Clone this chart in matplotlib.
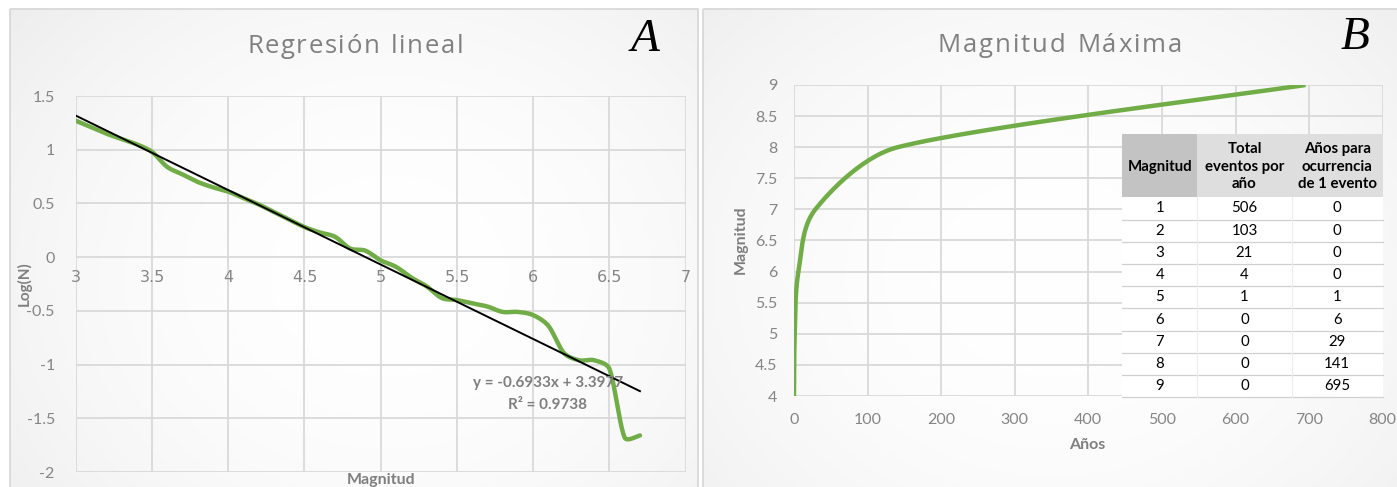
import numpy as np
import matplotlib
matplotlib.use("Agg")
import matplotlib.pyplot as plt
from matplotlib.patches import Rectangle
from matplotlib.font_manager import FontProperties

# ---------------- data ----------------
mag_a = [3.0, 3.1, 3.2, 3.3, 3.4, 3.5, 3.6, 3.7, 3.8, 3.9,
         4.0, 4.1, 4.2, 4.3, 4.4, 4.5, 4.6, 4.7, 4.8, 4.9,
         5.0, 5.1, 5.2, 5.3, 5.4, 5.5, 5.6, 5.7, 5.8, 5.9,
         6.0, 6.1, 6.2, 6.3, 6.4, 6.5, 6.6, 6.7]
logn_a = [1.27, 1.21, 1.15, 1.10, 1.05, 0.98, 0.84, 0.77, 0.70, 0.65,
          0.61, 0.55, 0.49, 0.42, 0.35, 0.28, 0.23, 0.19, 0.08, 0.06,
          -0.03, -0.09, -0.19, -0.27, -0.38, -0.40, -0.43, -0.46, -0.51, -0.51,
          -0.54, -0.64, -0.89, -0.96, -0.96, -1.04, -1.68, -1.66]
trend_slope = -0.6933
trend_intercept = 3.3977
trend_r2 = 0.9738

table_mag = [1, 2, 3, 4, 5, 6, 7, 8, 9]
table_events = [506, 103, 21, 4, 1, 0, 0, 0, 0]
table_years = [0, 0, 0, 0, 1, 6, 29, 141, 695]
table_headers = ["Magnitud", "Total\neventos por\naño", "Años para\nocurrencia\nde 1 evento"]

curve_mag_b = table_mag[3:]      # 4..9
curve_years_b = table_years[3:]

xticks_a = [3, 3.5, 4, 4.5, 5, 5.5, 6, 6.5, 7]
yticks_a = [-2, -1.5, -1, -0.5, 0, 0.5, 1, 1.5]
xticks_b = [0, 100, 200, 300, 400, 500, 600, 700, 800]
yticks_b = [4, 4.5, 5, 5.5, 6, 6.5, 7, 7.5, 8, 8.5, 9]

# ---------------- style ----------------
W, H = 1397, 487
FONT = "Lato"
TFONT = "Open Sans"
GREEN = "#70ad47"
GRID = "#d9d9d9"
TXT = "#7f7f7f"
TICK = "#858585"

fig = plt.figure(figsize=(W / 100, H / 100), dpi=100)
fig.patch.set_facecolor("white")
renderer = fig.canvas.get_renderer()


def fr(x0, y0, x1, y1):
    return [x0 / W, 1 - y1 / H, (x1 - x0) / W, (y1 - y0) / H]


# background panels with soft gradient
bg = fig.add_axes([0, 0, 1, 1], zorder=-10)
bg.set_xlim(0, W)
bg.set_ylim(H, 0)
bg.axis("off")


def panel(x0, y0, x1, y1, cx, cy):
    nx, ny = int(x1 - x0), int(y1 - y0)
    xs = np.linspace(0, 1, nx)
    ys = np.linspace(0, 1, ny)
    X, Y = np.meshgrid(xs, ys)
    d = np.sqrt(((X - cx) / 0.75) ** 2 + ((Y - cy) / 0.9) ** 2)
    v = 1 - 0.075 * np.clip(d, 0, 1.4) ** 2
    img = np.dstack([v, v, v])
    bg.imshow(img, extent=(x0, x1, y1, y0), aspect="auto", interpolation="bilinear")
    bg.add_patch(Rectangle((x0, y0), x1 - x0, y1 - y0, fill=False,
                           edgecolor="#d6d6d6", lw=1.2))


panel(10, 9, 698, 495, 0.55, 0.55)
panel(703, 9, 1405, 495, 0.5, 0.55)


def spaced_title(text, x_left, x_right, y, size, color):
    fp = FontProperties(family=TFONT, size=size)
    widths = []
    for ch in text:
        w, h, d = renderer.get_text_width_height_descent(ch if ch != " " else "n", fp, ismath=False)
        if ch == " ":
            w *= 0.5
        widths.append(w)
    total = sum(widths)
    gap = (x_right - x_left - total) / (len(text) - 1)
    x = x_left
    for ch, w in zip(text, widths):
        if ch != " ":
            bg.text(x, y, ch, ha="left", va="baseline", fontproperties=fp, color=color)
        x += w + gap


def smooth_line(ax, x, y, n=30):
    """Smoothed (Bezier, Catmull-Rom tangents with clamped handles) path in display space."""
    P = ax.transData.transform(np.column_stack([x, y]))
    m = len(P)
    T = np.zeros_like(P)
    for i in range(m):
        a = P[max(i - 1, 0)]
        b = P[min(i + 1, m - 1)]
        T[i] = (b - a) / 6.0
    out = []
    t = np.linspace(0, 1, n, endpoint=False)[:, None]
    for i in range(m - 1):
        p1, p2 = P[i], P[i + 1]
        L = np.linalg.norm(p2 - p1)
        h1, h2 = T[i].copy(), T[i + 1].copy()
        for h in (h1, h2):
            ln = np.linalg.norm(h)
            if ln > L / 3 and ln > 0:
                h *= (L / 3) / ln
        c1, c2 = p1 + h1, p2 - h2
        seg = ((1 - t) ** 3) * p1 + 3 * ((1 - t) ** 2) * t * c1 + 3 * (1 - t) * t ** 2 * c2 + t ** 3 * p2
        out.append(seg)
    out.append(P[-1][None, :])
    out = np.vstack(out)
    d = ax.transData.inverted().transform(out)
    return d[:, 0], d[:, 1]


def style_axes(ax):
    ax.set_facecolor("none")
    for s in ax.spines.values():
        s.set_visible(False)
    ax.grid(True, color=GRID, lw=1.3)
    ax.set_axisbelow(True)
    ax.tick_params(length=0, colors=TICK, labelsize=11.5)
    for lab in ax.get_xticklabels() + ax.get_yticklabels():
        lab.set_fontfamily(FONT)


# ---------------- chart A ----------------
axA = fig.add_axes(fr(75.7, 96, 685.7, 472))
axA.set_xlim(3, 7)
axA.set_ylim(-2, 1.5)
axA.set_xticks(xticks_a)
axA.set_yticks(yticks_a)
axA.set_xticklabels([f"{v:g}" for v in xticks_a])
axA.set_yticklabels([f"{v:g}" for v in yticks_a])
style_axes(axA)
axA.spines["bottom"].set_position(("data", 0))
axA.tick_params(axis="x", pad=9)
axA.tick_params(axis="y", pad=15)

sx, sy = smooth_line(axA, mag_a, logn_a)
axA.plot(sx, sy, color=GREEN, lw=3.2, solid_capstyle="round", solid_joinstyle="round", zorder=3)
tx = np.array([mag_a[0], mag_a[-1]])
axA.plot(tx, trend_slope * tx + trend_intercept, color="black", lw=1.4, zorder=4)

fig.text(548 / W, 1 - 383 / H, f"y = {trend_slope}x + {trend_intercept}", ha="center", va="center",
         color=TXT, fontsize=11, fontweight="bold", family=FONT)
fig.text(548 / W, 1 - 405 / H, f"R² = {trend_r2}", ha="center", va="center",
         color=TXT, fontsize=11, fontweight="bold", family=FONT)

fig.text(24 / W, 1 - 284 / H, "Log(N)", rotation=90, ha="center", va="center",
         color=TXT, fontsize=11, fontweight="bold", family=FONT)
fig.text(381 / W, 1 - 480 / H, "Magnitud", ha="center", va="center",
         color=TXT, fontsize=11.5, fontweight="bold", family=FONT)
spaced_title("Regresión lineal", 247, 463, 53, 18.5, "#808080")
fig.text(645 / W, 1 - 40 / H, "A", ha="center", va="center", color="black",
         fontsize=34, family="Liberation Serif", style="italic")

# ---------------- chart B ----------------
axB = fig.add_axes(fr(794, 85, 1382.7, 396))
axB.set_xlim(0, 800)
axB.set_ylim(4, 9)
axB.set_xticks(xticks_b)
axB.set_yticks(yticks_b)
axB.set_xticklabels([f"{v:g}" for v in xticks_b])
axB.set_yticklabels([f"{v:g}" for v in yticks_b])
style_axes(axB)
axB.tick_params(axis="x", pad=12)
axB.tick_params(axis="y", pad=12)

bx, by = smooth_line(axB, curve_years_b, curve_mag_b)
axB.plot(bx, by, color=GREEN, lw=3.2, solid_capstyle="butt", solid_joinstyle="round", zorder=3)

fig.text(1087 / W, 1 - 445 / H, "Años", ha="center", va="center",
         color=TXT, fontsize=11.5, fontweight="bold", family=FONT)
fig.text(741 / W, 1 - 240 / H, "Magnitud", rotation=90, ha="center", va="center",
         color=TXT, fontsize=11.5, fontweight="bold", family=FONT)
spaced_title("Magnitud Máxima", 938, 1182, 52, 18.5, "#808080")
fig.text(1355 / W, 1 - 38 / H, "B", ha="center", va="center", color="black",
         fontsize=34, family="Liberation Serif", style="italic")

# ---------------- table ----------------
tab = fig.add_axes([0, 0, 1, 1], zorder=5)
tab.set_xlim(0, W)
tab.set_ylim(H, 0)
tab.axis("off")

col_edges = [1122.3, 1197.3, 1291.7, 1382.7]
head_top, head_bot = 134, 197.3
row_h = (397.3 - head_bot) / len(table_mag)
head_fill = ["#c3c3c3", "#dedede", "#dedede"]

tab.add_patch(Rectangle((col_edges[0], head_top), col_edges[-1] - col_edges[0],
                        397.3 - head_top, facecolor="white", edgecolor="none"))
for j in range(3):
    x0, x1 = col_edges[j], col_edges[j + 1]
    tab.add_patch(Rectangle((x0, head_top), x1 - x0, head_bot - head_top,
                            facecolor=head_fill[j], edgecolor="none"))
    tab.text((x0 + x1) / 2, (head_top + head_bot) / 2 + 1, table_headers[j],
             ha="center", va="center", fontsize=10.8, fontweight="bold",
             family=FONT, color="black", linespacing=1.35)

for i in range(len(table_mag)):
    yc = head_bot + row_h * (i + 0.5)
    vals = [table_mag[i], table_events[i], table_years[i]]
    for j in range(3):
        tab.text((col_edges[j] + col_edges[j + 1]) / 2, yc, str(vals[j]),
                 ha="center", va="center", fontsize=10.8, family=FONT, color="black")
    yl = head_bot + row_h * (i + 1)
    tab.plot([col_edges[0], col_edges[-1]], [yl, yl], color="#d0d0d0", lw=0.9)
for xe in col_edges[1:-1]:
    tab.plot([xe, xe], [head_bot, 397.3], color="#ececec", lw=0.8)

fig.savefig("out.png", dpi=100)
